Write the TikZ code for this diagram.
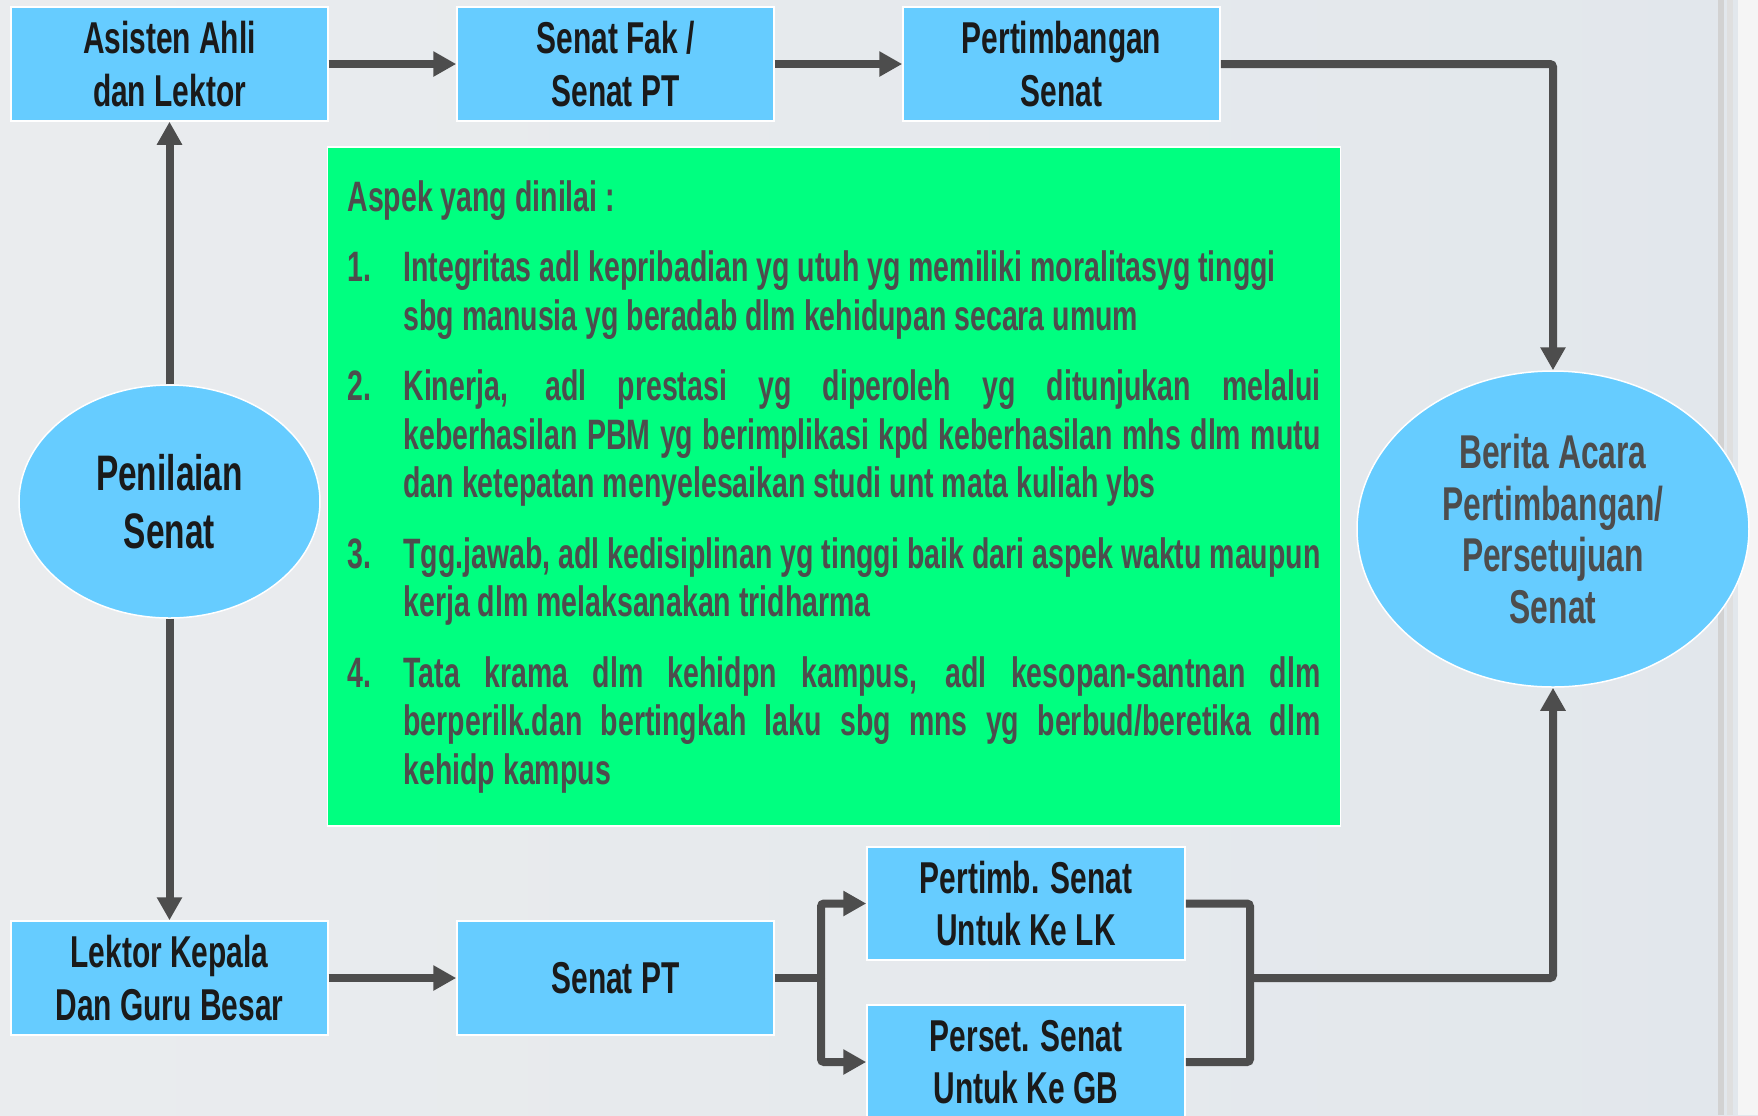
\documentclass[tikz,border=0pt]{standalone}
\usepackage{fontspec}
\setmainfont[FakeStretch=0.67]{Liberation Sans}
\usetikzlibrary{arrows.meta}

\definecolor{boxblue}{HTML}{66CCFF}
\definecolor{aspekgreen}{HTML}{00FF80}
\definecolor{arrowgray}{HTML}{4D4D4D}
\definecolor{textdark}{HTML}{1A1A1A}
\definecolor{textgray}{HTML}{4D4D4D}
\definecolor{bgleft}{HTML}{EAECEE}
\definecolor{bgright}{HTML}{E2E7EC}

\tikzstyle{stage} = [rectangle,fill=boxblue,draw=white,line width=0.15mm,minimum width=31.7mm,minimum height=11.4mm,align=center,text=textdark,font=\bfseries\fontsize{12.7}{14.9}\selectfont]
\tikzstyle{senatoval} = [ellipse,fill=boxblue,draw=white,line width=0.15mm,align=center,inner sep=0pt]
\tikzstyle{aspekbox} = [rectangle,fill=aspekgreen,draw=white,line width=0.15mm,text width=97.3mm,inner xsep=2mm,minimum height=67.9mm,align=justify,text=textgray,font=\bfseries\fontsize{12.1}{13.8}\selectfont]
\tikzstyle{flowline} = [draw=arrowgray,line width=0.8mm,rounded corners=0.3mm]
\tikzstyle{flow} = [flowline,-{Triangle[width=2.4mm,length=2.3mm]}]

\newcommand{\aspekitem}[2]{\par\vskip2.2mm\hangindent=5.6mm\hangafter=1\noindent\makebox[5.6mm][l]{#1}#2\par}

\usetikzlibrary{shapes.geometric}

\begin{document}
\begin{tikzpicture}[x=0.1mm,y=-0.1mm]
	\useasboundingbox (0,0) rectangle (1758,1115);
	\shade[left color=bgleft,right color=bgright] (0,0) rectangle (1758,1115);
	\fill[gray!35] (1718,0) rectangle (1724,1115);
	\fill[gray!25] (1727,0) rectangle (1733,1115);
	\fill[gray!8] (1738,0) rectangle (1758,1115);

	\node[stage] (asisten) at (169.5,64) {Asisten Ahli\\dan Lektor};
	\node[stage] (senatfak) at (615.5,64) {Senat Fak /\\Senat PT};
	\node[stage] (pertimbangan) at (1061.5,64) {Pertimbangan\\Senat};
	\node[stage] (lektor) at (169.5,978) {Lektor Kepala\\Dan Guru Besar};
	\node[stage] (senatpt) at (615.5,978) {Senat PT};
	\node[stage,minimum width=31.8mm,minimum height=11.3mm] (pertlk) at (1026,903.5) {Pertimb. Senat\\Untuk Ke LK};
	\node[stage,minimum width=31.8mm] (persgb) at (1026,1062) {Perset. Senat\\Untuk Ke GB};

	\node[senatoval,minimum width=30.1mm,minimum height=23.3mm,text=textdark,font=\bfseries\fontsize{14.2}{16.6}\selectfont] (penilaian) at (169.5,501.5) {Penilaian\\Senat};
	\node[senatoval,minimum width=39.2mm,minimum height=31.6mm,text=textgray,font=\bfseries\fontsize{13.5}{14.7}\selectfont] (berita) at (1553,529) {Berita Acara\\Pertimbangan/\\Persetujuan\\Senat};

	\node[aspekbox] (aspek) at (834,486.5) {\hyphenpenalty=10000 \noindent Aspek yang dinilai :
	\aspekitem{1.}{Integritas adl kepribadian yg utuh yg memiliki moralitasyg tinggi\newline sbg manusia yg beradab dlm kehidupan secara umum}
	\aspekitem{2.}{Kinerja, adl prestasi yg diperoleh yg ditunjukan melalui\linebreak keberhasilan PBM yg berimplikasi kpd keberhasilan mhs dlm mutu\linebreak dan ketepatan menyelesaikan studi unt mata kuliah ybs}
	\aspekitem{3.}{Tgg.jawab, adl kedisiplinan yg tinggi baik dari aspek waktu maupun\linebreak kerja dlm melaksanakan tridharma}
	\aspekitem{4.}{Tata krama dlm kehidpn kampus, adl kesopan-santnan dlm\linebreak berperilk.dan bertingkah laku sbg mns yg berbud/beretika dlm\linebreak kehidp kampus}};

	\coordinate (split) at (821,978);
	\coordinate (merge) at (1250,978);

	\draw[flow] (asisten.east) -- (senatfak.west);
	\draw[flow] (senatfak.east) -- (pertimbangan.west);
	\draw[flow] (pertimbangan.east) -| (berita.north);
	\draw[flow] (penilaian.north) -- (asisten.south);
	\draw[flow] (penilaian.south) -- (lektor.north);
	\draw[flow] (lektor.east) -- (senatpt.west);
	\draw[flowline] (senatpt.east) -- (split);
	\draw[flow] (split) |- (pertlk.west);
	\draw[flow] (split) |- (persgb.west);
	\draw[flowline] (pertlk.east) -| (merge) |- (persgb.east);
	\draw[flow] (merge) -| (berita.south);
\end{tikzpicture}
\end{document}
